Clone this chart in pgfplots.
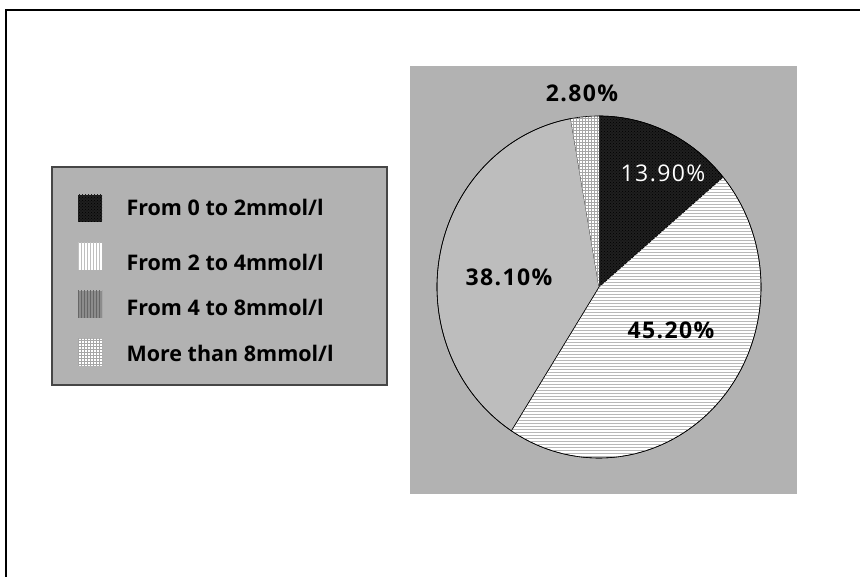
\documentclass[border=0pt]{standalone}
\usepackage{pgfplots}
\pgfplotsset{compat=1.18}
\usepackage{pgfplotstable}
\usetikzlibrary{patterns}
\usepackage{fontspec}
\setmainfont{Open Sans}

\definecolor{panel}{RGB}{178,178,178}
\definecolor{frameline}{RGB}{70,70,70}

% share of each glucose band, in percent (clockwise from 12 o'clock)
\pgfplotstableread{
value
13.9
45.2
38.1
2.8
}\piedata

\newcommand\pieslice[3]{%
  \path[#3] (axis cs:599,290) -- ++(#1:162pt and 171pt)
    arc[start angle=#1, end angle=#2, x radius=162pt, y radius=171pt] -- cycle;}
\newcommand\pct[1]{\pgfmathprintnumber[fixed, fixed zerofill, precision=2, assume math mode=true]{#1}\%}

\begin{document}
\begin{tikzpicture}[x=1pt,y=1pt]
\useasboundingbox (0,0) rectangle (860,577);

% cumulative angles of the slices
\pgfplotstablegetelem{0}{value}\of\piedata \pgfmathsetmacro\vA{\pgfplotsretval}
\pgfplotstablegetelem{1}{value}\of\piedata \pgfmathsetmacro\vB{\pgfplotsretval}
\pgfplotstablegetelem{2}{value}\of\piedata \pgfmathsetmacro\vC{\pgfplotsretval}
\pgfplotstablegetelem{3}{value}\of\piedata \pgfmathsetmacro\vD{\pgfplotsretval}
\pgfmathsetmacro\aA{90}
\pgfmathsetmacro\aB{\aA-3.6*\vA}
\pgfmathsetmacro\aC{\aB-3.6*\vB}
\pgfmathsetmacro\aD{\aC-3.6*\vC}
\pgfmathsetmacro\aE{\aD-3.6*\vD}

\begin{axis}[at={(0,0)}, anchor=south west, scale only axis,
  width=860pt, height=577pt, xmin=0, xmax=860, ymin=0, ymax=577,
  hide axis, clip=false]

% outer frame
\draw[black, line width=1.5pt] (axis cs:6,-5) -- (axis cs:6,567) -- (axis cs:870,567);

% plot area
\fill[panel] (axis cs:410,83) rectangle (axis cs:797,511);

% legend box
\draw[frameline, line width=1.6pt, fill=panel] (axis cs:52,192) rectangle (axis cs:387,410);

% legend keys
\path[fill=black!88, postaction={pattern=crosshatch dots, pattern color=black}]
  (axis cs:78,355) rectangle (axis cs:102,382);
\path[fill=white, postaction={pattern=vertical lines, pattern color=black!25}]
  (axis cs:78,307) rectangle (axis cs:102,334);
\path[fill=black!45, postaction={pattern=vertical lines, pattern color=black!60}]
  (axis cs:78,259) rectangle (axis cs:102,286);
\path[fill=white, postaction={pattern=grid, pattern color=black!35}]
  (axis cs:78,211) rectangle (axis cs:102,238);

\begin{scope}[every node/.style={anchor=west, font=\fontsize{21.5}{24}\selectfont\bfseries}]
\node at (axis cs:123,370) {From 0 to 2mmol/l};
\node at (axis cs:123,315) {From 2 to 4mmol/l};
\node at (axis cs:123,270) {From 4 to 8mmol/l};
\node at (axis cs:123,224) {More than 8mmol/l};
\end{scope}

% pie slices
\pieslice{\aA}{\aB}{fill=black!88, postaction={pattern=crosshatch dots, pattern color=black}, draw=black, line width=0.6pt}
\pieslice{\aB}{\aC}{fill=white, postaction={pattern=horizontal lines, pattern color=black!28}, draw=black, line width=0.6pt}
\pieslice{\aC}{\aD}{fill=black!26, draw=black, line width=0.6pt}
\pieslice{\aD}{\aE}{fill=white, postaction={pattern=grid, pattern color=black!35}}
\draw[black, line width=0.6pt] (axis cs:599,290) ellipse[x radius=162pt, y radius=171pt];

% value labels
\begin{scope}[every node/.style={font=\fontsize{23}{26}\selectfont\bfseries\addfontfeature{LetterSpace=6}}]
\node at (axis cs:582,484) {\pct{\vD}};
\node[white, font=\fontsize{23}{26}\selectfont\addfontfeature{LetterSpace=6}] at (axis cs:663,404) {\pct{\vA}};
\node at (axis cs:671,247) {\pct{\vB}};
\node at (axis cs:509,300) {\pct{\vC}};
\end{scope}
\end{axis}
\end{tikzpicture}
\end{document}
